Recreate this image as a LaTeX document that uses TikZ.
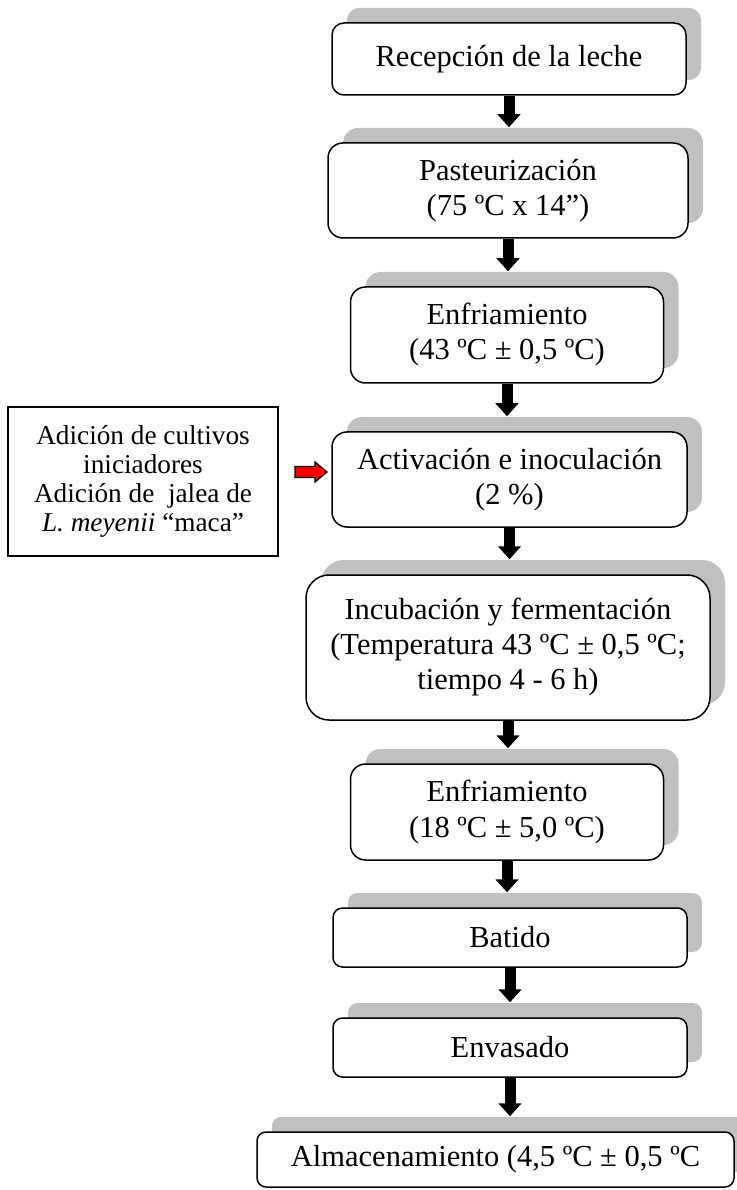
\documentclass[tikz,border=0pt]{standalone}
\usepackage{fontspec}
\setmainfont{Liberation Serif}
\usetikzlibrary{shadows,arrows.meta}
\definecolor{shadowgray}{RGB}{192,192,192}
\definecolor{arrowred}{RGB}{255,0,0}
\newcommand{\stepfont}{\fontsize{12.2pt}{14pt}\selectfont}
\newcommand{\sidefont}{\fontsize{10.9pt}{11.7pt}\selectfont}
\tikzset{
  stepbox/.style={draw,line width=0.6pt,fill=white,align=center,inner sep=0pt,font=\stepfont,
    drop shadow={shadow xshift=6pt,shadow yshift=6pt,fill=shadowgray,opacity=1}},
  sidebox/.style={draw,line width=0.6pt,fill=white,align=center,inner sep=0pt,font=\sidefont},
  flowarrow/.style={line width=4.4pt,-{Triangle[length=5.2pt,width=9pt]},shorten >=6pt}
}

\begin{document}
\begin{tikzpicture}[x=0.4pt,y=-0.4pt]
    \path[use as bounding box,fill=white](0,0)rectangle(736,1190);

    \node[stepbox,rounded corners=4.8pt,minimum width=141.6pt,minimum height=28.8pt](rec)at(509,59){Recepción de la leche};
    \node[stepbox,rounded corners=6pt,minimum width=144pt,minimum height=38pt](pas)at(508,190.5){Pasteurización\\(75 ºC x 14”)};
    \node[stepbox,rounded corners=6pt,minimum width=125.2pt,minimum height=38.4pt](enfa)at(507,335){Enfriamiento\\(43 ºC ± 0,5 ºC)};
    \node[stepbox,rounded corners=6pt,minimum width=142pt,minimum height=38pt](act)at(509.5,479.5){Activación e inoculación\\(2 \%)};
    \node[stepbox,rounded corners=9.2pt,minimum width=161.6pt,minimum height=58pt](inc)at(508,647.5){Incubación y fermentación\\(Temperatura 43 ºC ± 0,5 ºC;\\tiempo 4 - 6 h)};
    \node[stepbox,rounded corners=6pt,minimum width=125.2pt,minimum height=38.4pt](enfb)at(507,812){Enfriamiento\\(18 ºC ± 5,0 ºC)};
    \node[stepbox,rounded corners=3.8pt,minimum width=141.6pt,minimum height=23.6pt](bat)at(510,937.5){Batido};
    \node[stepbox,rounded corners=3.8pt,minimum width=141.6pt,minimum height=23.6pt](env)at(510,1047.5){Envasado};
    \node[stepbox,rounded corners=3.6pt,minimum width=190.8pt,minimum height=22pt](alm)at(495.5,1159.5){Almacenamiento (4,5 ºC ± 0,5 ºC};

    \node[sidebox,minimum width=108pt,minimum height=59.6pt](cult)at(143,481.5){Adición de cultivos\\iniciadores\\Adición de~ jalea de\\\textit{L. meyenii} “maca”};

    \draw[flowarrow](rec.south)--(rec.south|-pas.north);
    \draw[flowarrow](pas.south)--(pas.south|-enfa.north);
    \draw[flowarrow](enfa.south)--(enfa.south|-act.north);
    \draw[flowarrow](act.south)--(act.south|-inc.north);
    \draw[flowarrow](inc.south)--(inc.south|-enfb.north);
    \draw[flowarrow](enfb.south)--(enfb.south|-bat.north);
    \draw[flowarrow](bat.south)--(bat.south|-env.north);
    \draw[flowarrow](env.south)--(env.south|-alm.north);

    \coordinate(rtail)at(295,472);
    \coordinate(rtip)at(327,472);
    \draw[fill=arrowred,line width=0.5pt](rtail)++(0,-5.5)--++(20,0)--++(0,-4.5)--(rtip)--++(-12,10)--++(0,-4.5)--++(-20,0)--cycle;
\end{tikzpicture}
\end{document}
